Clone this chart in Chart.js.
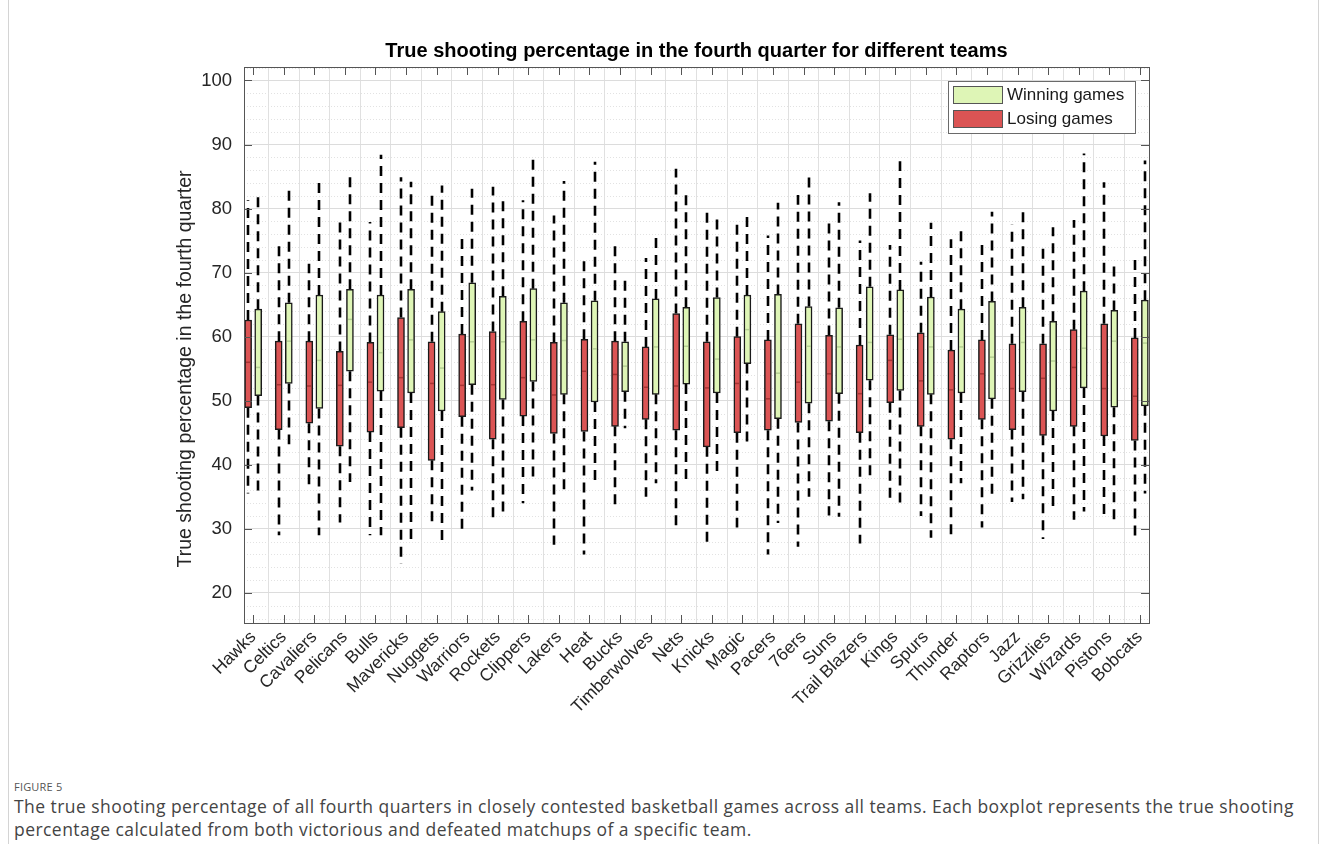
<!DOCTYPE html>
<html>
<head>
<meta charset="utf-8">
<script src="https://cdn.jsdelivr.net/npm/chart.js@4.4.0/dist/chart.umd.min.js"></script>
<style>
  html, body { margin: 0; padding: 0; background: #fff; }
  body { width: 1327px; height: 844px; position: relative; overflow: hidden; }
  .frame { position: absolute; left: 8px; top: -2px; width: 1311px; height: 870px; border: 1px solid #d4d4d4; box-sizing: border-box; }
  #chart-wrap { position: absolute; left: 0; top: 0; width: 1327px; height: 760px; }
  .fig-label { position: absolute; left: 14px; top: 779px; font-family: "Open Sans", sans-serif; font-size: 11px; color: #555; letter-spacing: 0.2px; }
  .fig-caption { position: absolute; left: 14px; top: 795px; width: 1300px; font-family: "Open Sans", sans-serif; font-size: 17.5px; letter-spacing: 0.45px; line-height: 23px; color: #444; white-space: nowrap; }
</style>
</head>
<body>
<div class="frame"></div>
<div id="chart-wrap"><canvas id="ts-box" width="1327" height="760"></canvas></div>
<div class="fig-label">FIGURE 5</div>
<div class="fig-caption">The true shooting percentage of all fourth quarters in closely contested basketball games across all teams. Each boxplot represents the true shooting<br>percentage calculated from both victorious and defeated matchups of a specific team.</div>

<script>
// =============================
// TEAM LIST
// =============================
const teams = ['Hawks', 'Celtics', 'Cavaliers', 'Pelicans', 'Bulls', 'Mavericks', 'Nuggets', 'Warriors',
    'Rockets', 'Clippers', 'Lakers', 'Heat', 'Bucks', 'Timberwolves', 'Nets', 'Knicks', 'Magic', 'Pacers',
    '76ers', 'Suns', 'Trail Blazers', 'Kings', 'Spurs', 'Thunder', 'Raptors', 'Jazz', 'Grizzlies', 'Wizards',
    'Pistons', 'Bobcats'];

// losing games: whisker ends, quartiles, median
const loseMax = [81.3, 74.6, 71.4, 78.2, 77.9, 84.9, 82.5, 76.3, 83.4, 81.3, 78.9, 72.3, 75.0, 72.3, 86.2,
    80.2, 77.6, 75.8, 82.1, 78.7, 75.0, 74.3, 71.7, 75.2, 75.0, 77.5, 74.8, 78.2, 84.1, 72.1];
const loseQ3 = [62.6, 59.3, 59.3, 57.7, 59.1, 63.0, 59.2, 60.4, 60.8, 62.4, 59.1, 59.6, 59.3, 58.4, 63.6,
    59.2, 60.0, 59.5, 62.0, 60.2, 58.7, 60.3, 60.6, 57.9, 59.5, 58.9, 58.9, 61.1, 62.0, 59.8];
const loseMed = [56.0, 52.5, 52.3, 52.4, 52.9, 53.6, 52.7, 52.4, 52.5, 53.6, 50.9, 54.6, 54.1, 52.1, 52.3,
    52.0, 52.7, 50.3, 52.9, 54.2, 51.1, 56.3, 53.1, 51.7, 54.2, 51.9, 53.5, 55.2, 51.9, 50.7];
const loseQ1 = [48.9, 45.5, 46.5, 42.9, 45.1, 45.8, 40.7, 47.5, 44.0, 47.6, 44.9, 45.2, 46.0, 47.1, 45.4,
    42.8, 45.0, 45.4, 46.6, 46.8, 45.0, 49.7, 46.0, 44.0, 47.1, 45.5, 44.6, 46.0, 44.5, 43.8];
const loseMin = [35.5, 29.0, 36.3, 31.0, 29.0, 24.5, 31.0, 29.5, 31.0, 34.0, 27.5, 26.0, 33.2, 35.0, 29.5,
    28.0, 30.2, 26.0, 27.2, 32.1, 27.7, 34.5, 32.0, 28.6, 30.2, 34.2, 28.4, 31.4, 31.5, 28.0];

// winning games
const winMax = [82.4, 83.6, 84.6, 84.9, 88.4, 84.2, 83.6, 83.1, 81.7, 88.6, 84.3, 87.3, 69.6, 76.3, 82.5,
    79.3, 79.2, 80.9, 85.3, 81.0, 82.4, 87.4, 77.8, 76.8, 79.5, 79.6, 77.1, 88.6, 71.9, 87.5];
const winQ3 = [64.3, 65.3, 66.5, 67.4, 66.5, 67.4, 63.9, 68.4, 66.3, 67.5, 65.3, 65.6, 59.2, 65.9, 64.6,
    66.1, 66.5, 66.6, 64.7, 64.5, 67.8, 67.3, 66.2, 64.3, 65.5, 64.6, 62.4, 67.1, 64.1, 65.7];
const winMed = [55.2, 59.3, 56.3, 62.7, 57.5, 59.5, 55.1, 59.2, 59.2, 59.5, 59.4, 58.1, 55.4, 58.4, 58.5,
    56.5, 61.1, 54.3, 58.5, 58.4, 59.1, 59.6, 58.4, 58.4, 56.8, 59.1, 56.2, 58.2, 59.3, 59.0];
const winQ1 = [50.8, 52.7, 48.8, 54.6, 51.5, 51.2, 48.4, 52.5, 50.2, 53.0, 51.0, 49.8, 51.4, 51.0, 52.6,
    51.2, 55.8, 47.2, 49.6, 51.1, 53.2, 51.6, 51.0, 51.2, 50.3, 51.4, 48.4, 52.0, 49.0, 49.2];
const winMin = [35.6, 43.2, 29.0, 37.3, 29.0, 28.0, 28.0, 36.0, 32.0, 37.6, 35.9, 36.7, 45.7, 37.1, 36.8,
    38.4, 42.8, 30.9, 35.0, 31.9, 37.3, 33.4, 28.6, 37.1, 35.0, 34.6, 33.4, 32.7, 31.3, 35.5];

const yTicks = [20, 30, 40, 50, 60, 70, 80, 90, 100];

const RED = '#db5454';
const GREEN = '#def5b6';
const FONT = 'Liberation Sans, Arial, sans-serif';
const SHIFT = 0.165; // half gap between the two boxes of a team, in category units
const Y_TITLE = 'True shooting percentage in the fourth quarter';

const groups = [
    { label: 'Losing games', color: RED, median: '#a83434', shift: -SHIFT,
      min: loseMin, q1: loseQ1, med: loseMed, q3: loseQ3, max: loseMax },
    { label: 'Winning games', color: GREEN, median: '#b4cf93', shift: SHIFT,
      min: winMin, q1: winQ1, med: winMed, q3: winQ3, max: winMax }
];

function line(ctx, x1, y1, x2, y2) {
    ctx.beginPath();
    ctx.moveTo(x1, y1);
    ctx.lineTo(x2, y2);
    ctx.stroke();
}

// whiskers, medians, minor grid, inward ticks, frame, y label and legend
const boxExtras = {
    id: 'boxExtras',
    beforeDatasetsDraw(chart) {
        const { ctx, chartArea: a, scales: { x, y } } = chart;
        ctx.save();
        ctx.beginPath();
        ctx.rect(a.left, a.top, a.right - a.left, a.bottom - a.top);
        ctx.clip();

        // dotted minor grid every 2 %
        ctx.strokeStyle = '#e2e2e2';
        ctx.lineWidth = 1;
        ctx.setLineDash([1, 2]);
        for (let v = 16; v <= 102; v += 2) {
            if (v % 10 === 0) continue;
            const py = Math.round(y.getPixelForValue(v)) + 0.5;
            line(ctx, a.left, py, a.right, py);
        }

        // dashed whiskers, drawn outward from the box
        ctx.strokeStyle = '#000';
        ctx.lineWidth = 2.6;
        ctx.setLineDash([10, 7]);
        groups.forEach(g => {
            teams.forEach((t, i) => {
                const px = Math.round(x.getPixelForValue(i + 1 + g.shift));
                line(ctx, px, y.getPixelForValue(g.q3[i]), px, y.getPixelForValue(g.max[i]));
                line(ctx, px, y.getPixelForValue(g.q1[i]), px, y.getPixelForValue(g.min[i]));
            });
        });
        ctx.restore();
    },
    afterDatasetsDraw(chart) {
        const { ctx, chartArea: a, scales: { x, y } } = chart;
        ctx.save();

        // median lines
        ctx.lineWidth = 1.5;
        groups.forEach(g => {
            ctx.strokeStyle = g.median;
            teams.forEach((t, i) => {
                const px = Math.round(x.getPixelForValue(i + 1 + g.shift));
                const py = y.getPixelForValue(g.med[i]);
                line(ctx, px - 2, py, px + 2, py);
            });
        });

        // axes frame
        ctx.strokeStyle = '#555';
        ctx.lineWidth = 1;
        ctx.strokeRect(Math.round(a.left) + 0.5, Math.round(a.top) + 0.5,
            Math.round(a.right - a.left), Math.round(a.bottom - a.top));

        // inward tick marks
        const tl = 8;
        teams.forEach((t, i) => {
            const px = Math.round(x.getPixelForValue(i + 1)) + 0.5;
            line(ctx, px, a.top, px, a.top + tl);
            line(ctx, px, a.bottom, px, a.bottom - tl);
        });
        yTicks.forEach(v => {
            const py = Math.round(y.getPixelForValue(v)) + 0.5;
            line(ctx, a.left, py, a.left + tl, py);
            line(ctx, a.right, py, a.right - tl, py);
        });

        // y axis label, sits a little below the axis middle
        ctx.save();
        ctx.translate(186, (a.top + a.bottom) / 2 + 24);
        ctx.rotate(-Math.PI / 2);
        ctx.font = '19.5px ' + FONT;
        ctx.fillStyle = '#262626';
        ctx.textAlign = 'center';
        ctx.textBaseline = 'middle';
        ctx.fillText(Y_TITLE, 0, 0);
        ctx.restore();

        // legend
        const lx = 948, ly = 81, lw = 187, lh = 52;
        ctx.fillStyle = '#fff';
        ctx.fillRect(lx, ly, lw, lh);
        ctx.strokeStyle = '#6a6a6a';
        ctx.strokeRect(lx + 0.5, ly + 0.5, lw, lh);
        ctx.font = '17px ' + FONT;
        ctx.textBaseline = 'middle';
        [groups[1], groups[0]].forEach((g, k) => {
            const sy = ly + 5 + k * 24;
            ctx.fillStyle = g.color;
            ctx.fillRect(lx + 5, sy, 50, 17);
            ctx.strokeStyle = '#555';
            ctx.strokeRect(lx + 5.5, sy + 0.5, 49, 17);
            ctx.fillStyle = '#1a1a1a';
            ctx.fillText(g.label, lx + 59, sy + 9);
        });
        ctx.restore();
    }
};

const datasets = groups.map(g => ({
    label: g.label,
    data: teams.map((t, i) => ({ x: i + 1 + g.shift, y: [g.q1[i], g.q3[i]] })),
    backgroundColor: g.color,
    borderColor: '#1a1a1a',
    borderWidth: 1.5,
    borderSkipped: false,
    barThickness: 7,
    grouped: false
}));

new Chart(document.getElementById('ts-box'), {
    type: 'bar',
    data: { datasets },
    options: {
        responsive: false,
        animation: false,
        layout: { padding: { left: 160, right: 178, top: 0, bottom: 0 } },
        scales: {
            x: {
                type: 'linear',
                min: 0.7,
                max: 30.3,
                offset: false,
                afterFit(scale) { scale.height = 137; },
                grid: { color: '#e0e0e0', lineWidth: 1, drawTicks: false },
                border: { display: false },
                ticks: {
                    stepSize: 1,
                    includeBounds: false,
                    autoSkip: false,
                    maxTicksLimit: 40,
                    maxRotation: 45,
                    minRotation: 45,
                    padding: 4,
                    color: '#262626',
                    font: { family: FONT, size: 17.5 },
                    callback: v => teams[v - 1] || ''
                }
            },
            y: {
                min: 15.3,
                max: 102.1,
                afterFit(scale) { scale.width = 84; },
                grid: { color: '#dcdcdc', lineWidth: 1, drawTicks: false },
                border: { display: false },
                ticks: {
                    stepSize: 10,
                    includeBounds: false,
                    padding: 12,
                    color: '#262626',
                    font: { family: FONT, size: 18.5 }
                }
            }
        },
        plugins: {
            legend: { display: false },
            tooltip: { enabled: false },
            title: {
                display: true,
                fullSize: false,
                text: 'True shooting percentage in the fourth quarter for different teams',
                color: '#000',
                font: { family: FONT, size: 20, weight: 'bold' },
                padding: { top: 39, bottom: 4 }
            }
        }
    },
    plugins: [boxExtras]
});
</script>
</body>
</html>
